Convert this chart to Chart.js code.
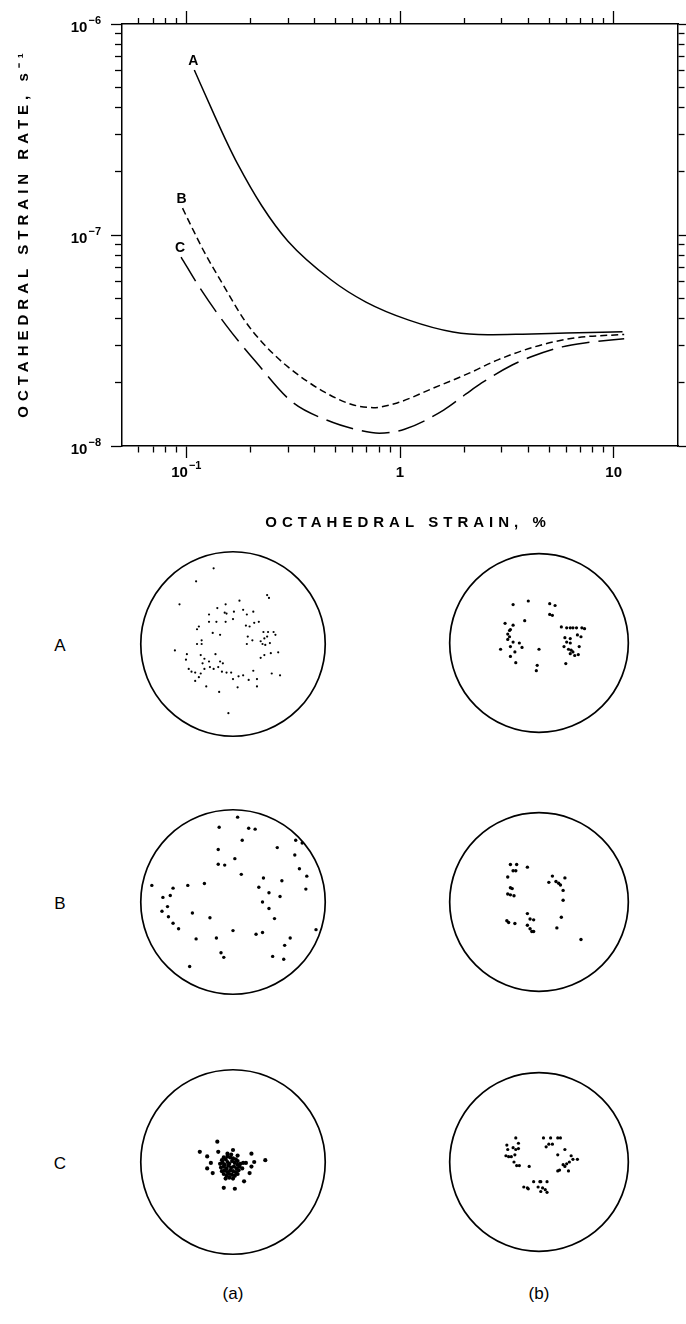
<!DOCTYPE html>
<html>
<head>
<meta charset="utf-8">
<script src="https://cdn.jsdelivr.net/npm/chart.js@4.4.1/dist/chart.umd.min.js"></script>
<style>
  body { margin: 0; background: #fff; }
  #page { position: relative; width: 686px; height: 1324px; overflow: hidden; font-family: "Liberation Sans", Arial, sans-serif; color: #000; }
  canvas { position: absolute; }
  .lbl { position: absolute; transform: translate(-50%, -50%); font-size: 17px; white-space: nowrap; }
</style>
</head>
<body>
<div id="page">
  <canvas id="curves" width="686" height="545" style="left:0;top:0"></canvas>
  <canvas id="net-A-a" width="198" height="198" style="left:134px;top:545px"></canvas>
  <canvas id="net-A-b" width="192" height="192" style="left:443px;top:547px"></canvas>
  <canvas id="net-B-a" width="198" height="198" style="left:134px;top:803px"></canvas>
  <canvas id="net-B-b" width="192" height="192" style="left:443px;top:806px"></canvas>
  <canvas id="net-C-a" width="198" height="198" style="left:134px;top:1063px"></canvas>
  <canvas id="net-C-b" width="192" height="192" style="left:443px;top:1066px"></canvas>
  <div class="lbl" style="left:60px;top:646px">A</div>
  <div class="lbl" style="left:60px;top:904px">B</div>
  <div class="lbl" style="left:60px;top:1164px">C</div>
  <div class="lbl" style="left:233px;top:1294px">(a)</div>
  <div class="lbl" style="left:539px;top:1294px">(b)</div>
</div>
<script>
// strain-rate curves (octahedral strain %, strain rate 1/s)
const curveLabels = ['A', 'B', 'C'];
const strainA = [0.109, 0.134, 0.155, 0.173, 0.225, 0.299, 0.477, 0.693, 1.10, 1.77, 2.57, 3.75, 6.0, 11.0];
const rateA = [6.05e-7, 3.78e-7, 2.74e-7, 2.19e-7, 1.38e-7, 9.35e-8, 6.12e-8, 4.81e-8, 3.95e-8, 3.47e-8, 3.37e-8, 3.39e-8, 3.43e-8, 3.48e-8];
const strainB = [0.096, 0.106, 0.122, 0.147, 0.187, 0.225, 0.299, 0.444, 0.60, 0.75, 0.97, 1.43, 2.12, 2.87, 4.26, 6.53, 11.2];
const rateB = [1.34e-7, 1.09e-7, 8.22e-8, 5.92e-8, 3.95e-8, 3.12e-8, 2.37e-8, 1.80e-8, 1.57e-8, 1.52e-8, 1.60e-8, 1.88e-8, 2.22e-8, 2.56e-8, 2.95e-8, 3.25e-8, 3.38e-8];
const strainC = [0.0945, 0.115, 0.153, 0.212, 0.312, 0.46, 0.62, 0.8, 1.05, 1.6, 2.03, 2.41, 3.35, 4.08, 5.74, 7.31, 11.2];
const rateC = [7.86e-8, 5.67e-8, 3.75e-8, 2.50e-8, 1.62e-8, 1.32e-8, 1.20e-8, 1.15e-8, 1.20e-8, 1.48e-8, 1.76e-8, 1.99e-8, 2.42e-8, 2.64e-8, 2.95e-8, 3.08e-8, 3.22e-8];

const xTickValues = [0.06, 0.07, 0.08, 0.09, 0.1, 0.2, 0.3, 0.4, 0.5, 0.6, 0.7, 0.8, 0.9, 1, 2, 3, 4, 5, 6, 7, 8, 9, 10];
const xMajor = [0.1, 1, 10];
const xLabelBase = ['10', '1', '10'];
const xLabelExp = ['−1', '', ''];
const yTickValues = [1e-8, 2e-8, 3e-8, 4e-8, 5e-8, 6e-8, 7e-8, 8e-8, 9e-8, 1e-7, 2e-7, 3e-7, 4e-7, 5e-7, 6e-7, 7e-7, 8e-7, 9e-7, 1e-6];
const yMajor = [1e-8, 1e-7, 1e-6];
const yLabelBase = ['10', '10', '10'];
const yLabelExp = ['−8', '−7', '−6'];
const xTitle = 'OCTAHEDRAL STRAIN, %';
const yTitle = 'OCTAHEDRAL STRAIN RATE, s⁻¹';

// pole points on the nets, in units of the net radius (x right, y up)
const netAa = [[-0.21,0.82],[-0.40,0.68],[-0.58,0.43],[0.37,0.53],[0.39,0.50],[-0.08,0.43],[0.07,0.47],[-0.17,0.39],[-0.09,0.34],[-0.07,0.33],[0.01,0.35],[0.11,0.37],[0.22,0.35],[-0.26,0.32],[0.15,0.32],[-0.26,0.24],[-0.18,0.24],[-0.08,0.24],[0.00,0.27],[0.14,0.20],[0.18,0.19],[0.23,0.23],[0.28,0.24],[-0.37,0.19],[-0.39,0.16],[-0.22,0.12],[-0.14,0.10],[0.16,0.08],[0.33,0.13],[0.38,0.13],[0.44,0.13],[0.46,0.10],[-0.39,0.00],[-0.34,0.00],[-0.34,0.04],[0.15,0.00],[0.21,0.04],[0.30,0.03],[0.32,0.00],[0.35,-0.01],[0.40,0.01],[0.37,0.08],[0.34,0.06],[-0.63,-0.07],[-0.50,-0.11],[-0.51,-0.17],[-0.35,-0.12],[-0.19,-0.11],[-0.31,-0.16],[-0.26,-0.19],[-0.14,-0.19],[-0.11,-0.21],[-0.33,-0.21],[-0.25,-0.25],[-0.16,-0.25],[-0.31,-0.27],[-0.48,-0.27],[-0.45,-0.30],[-0.41,-0.31],[-0.35,-0.32],[-0.21,-0.27],[-0.12,-0.30],[-0.07,-0.31],[-0.02,-0.31],[0.06,-0.35],[0.11,-0.34],[0.17,-0.39],[0.22,-0.29],[0.26,-0.38],[0.42,-0.32],[0.51,-0.34],[0.49,-0.09],[0.41,-0.10],[0.34,-0.12],[0.30,-0.15],[-0.41,-0.40],[-0.37,-0.36],[-0.29,-0.46],[0.00,-0.38],[-0.05,-0.75],[0.05,-0.47],[-0.15,-0.52],[0.26,-0.46]];
const netAb = [[-0.29,0.43],[-0.12,0.47],[0.12,0.44],[0.18,0.42],[-0.16,0.25],[0.12,0.32],[0.15,0.31],[-0.38,0.22],[-0.29,0.20],[-0.33,0.14],[-0.35,0.10],[-0.32,0.15],[-0.33,0.07],[-0.35,0.04],[-0.29,0.01],[-0.22,0.00],[-0.43,-0.07],[-0.32,-0.04],[-0.27,-0.10],[-0.19,-0.05],[-0.32,-0.15],[-0.26,-0.22],[0.00,-0.07],[-0.02,-0.25],[-0.03,-0.31],[0.25,0.18],[0.31,0.17],[0.35,0.17],[0.38,0.17],[0.42,0.17],[0.48,0.17],[0.51,0.16],[0.43,0.09],[0.29,0.06],[0.35,0.05],[0.31,0.01],[0.35,0.00],[0.28,-0.04],[0.33,-0.07],[0.36,-0.08],[0.38,-0.10],[0.35,-0.12],[0.40,-0.14],[0.30,-0.23],[0.47,0.07],[0.45,-0.04],[0.44,-0.13]];
const netBa = [[0.05,0.92],[-0.15,0.81],[0.17,0.80],[0.24,0.79],[0.10,0.67],[0.68,0.67],[0.75,0.64],[-0.16,0.57],[0.48,0.59],[0.67,0.51],[0.02,0.47],[-0.16,0.41],[-0.09,0.40],[0.09,0.30],[0.72,0.36],[0.80,0.28],[-0.88,0.18],[-0.65,0.15],[-0.49,0.18],[-0.31,0.20],[0.33,0.26],[0.53,0.23],[0.28,0.16],[0.79,0.14],[0.39,0.10],[0.51,0.06],[-0.76,0.05],[-0.68,0.07],[-0.71,-0.05],[-0.77,-0.10],[-0.70,-0.16],[-0.65,-0.23],[-0.59,-0.29],[-0.44,-0.12],[-0.25,-0.17],[0.32,0.00],[0.39,-0.07],[0.45,-0.18],[0.90,-0.30],[0.00,-0.31],[-0.40,-0.40],[-0.18,-0.39],[0.25,-0.35],[0.32,-0.33],[0.62,-0.39],[0.56,-0.47],[-0.13,-0.55],[-0.10,-0.60],[0.43,-0.59],[0.55,-0.62],[-0.47,-0.70]];
const netBb = [[-0.32,0.42],[-0.25,0.42],[-0.29,0.35],[-0.26,0.35],[-0.13,0.39],[-0.35,0.28],[-0.32,0.16],[-0.30,0.15],[-0.35,0.09],[-0.32,0.08],[-0.28,0.07],[0.15,0.29],[0.11,0.22],[0.19,0.23],[0.22,0.21],[0.24,0.19],[0.29,0.27],[0.27,0.13],[0.27,0.02],[-0.13,-0.13],[-0.10,-0.19],[-0.06,-0.20],[-0.36,-0.21],[-0.34,-0.23],[-0.27,-0.24],[-0.13,-0.26],[-0.10,-0.30],[-0.08,-0.33],[-0.06,-0.33],[0.25,-0.17],[0.20,-0.29],[0.47,-0.42]];
const netCa = [[-0.12,0.02],[-0.10,0.05],[-0.08,0.03],[-0.06,0.06],[-0.03,0.05],[0.00,0.04],[0.03,0.03],[0.05,0.01],[-0.14,-0.02],[-0.11,-0.01],[-0.09,-0.03],[-0.06,0.00],[-0.04,-0.02],[-0.01,0.01],[0.02,-0.01],[0.05,-0.03],[0.08,-0.02],[-0.13,-0.06],[-0.10,-0.05],[-0.07,-0.07],[-0.05,-0.04],[-0.02,-0.06],[0.01,-0.05],[0.04,-0.07],[0.07,-0.05],[-0.12,-0.10],[-0.09,-0.09],[-0.06,-0.11],[-0.03,-0.09],[0.00,-0.10],[0.03,-0.11],[0.06,-0.09],[-0.10,-0.13],[-0.07,-0.15],[-0.04,-0.13],[-0.01,-0.14],[0.02,-0.15],[0.05,-0.13],[-0.08,-0.18],[-0.04,-0.17],[0.00,-0.18],[-0.06,0.09],[-0.02,0.08],[0.10,-0.07],[0.11,-0.01],[-0.17,0.22],[-0.36,0.11],[-0.28,0.06],[0.00,0.13],[0.20,0.09],[0.35,0.02],[-0.24,-0.01],[-0.28,-0.07],[-0.22,-0.12],[0.20,-0.05],[0.23,0.00],[0.14,-0.01],[0.18,-0.12],[0.12,-0.21],[-0.10,-0.28],[0.02,-0.29],[-0.16,0.11],[0.05,0.07]];
const netCb = [[-0.26,0.27],[-0.36,0.19],[-0.35,0.14],[-0.29,0.16],[-0.26,0.14],[-0.23,0.15],[-0.23,0.21],[-0.37,0.07],[-0.34,0.06],[-0.31,0.06],[-0.27,0.08],[-0.28,0.00],[-0.22,-0.04],[-0.25,-0.04],[-0.11,-0.05],[0.05,0.27],[0.13,0.27],[0.21,0.27],[0.24,0.27],[0.11,0.20],[0.15,0.20],[0.08,0.17],[0.29,0.14],[0.21,0.08],[0.36,0.07],[0.38,0.03],[0.43,0.03],[0.34,0.00],[0.31,-0.02],[0.27,-0.03],[0.29,-0.05],[0.33,-0.10],[0.21,-0.10],[0.23,-0.09],[-0.17,-0.28],[-0.13,-0.29],[-0.12,-0.30],[-0.06,-0.22],[0.01,-0.22],[0.02,-0.22],[0.09,-0.22],[-0.01,-0.28],[0.04,-0.29],[0.07,-0.31],[0.02,-0.33],[0.09,-0.34]];

const FONT = '"Liberation Sans", Arial, sans-serif';

// minor ticks are shortened with a dash; on the top/left sides the tick is drawn outer end first
function tickDash(majors, minorLen) {
  return ctx => majors.includes(ctx.tick && ctx.tick.value) ? [] : [minorLen, 100];
}
function tickOffset(majors, len, minorLen) {
  return ctx => majors.includes(ctx.tick && ctx.tick.value) ? 0 : 100 + 2 * minorLen - len;
}

function logAxis(position, values, majors, len, minorLen, size) {
  const horizontal = position === 'top' || position === 'bottom';
  const outerFirst = position === 'top' || position === 'left';
  return {
    type: 'logarithmic',
    position: position,
    min: horizontal ? 0.05 : 1e-8,
    max: horizontal ? 20 : 1e-6,
    afterBuildTicks: scale => { scale.ticks = values.map(v => ({ value: v })); },
    afterFit: scale => {
      if (horizontal) scale.height = size; else scale.width = size;
    },
    border: { display: true, color: '#000', width: 1.5 },
    grid: {
      drawOnChartArea: false,
      drawTicks: true,
      tickLength: len,
      tickColor: '#000',
      tickWidth: 1.3,
      tickBorderDash: tickDash(majors, minorLen),
      tickBorderDashOffset: outerFirst ? tickOffset(majors, len, minorLen) : 0
    },
    ticks: { display: false, autoSkip: false },
    title: { display: false }
  };
}

// powers of ten with a raised exponent, placed through the scales
function drawPower(ctx, base, exp, x, y, align) {
  ctx.font = 'bold 15px ' + FONT;
  const wb = ctx.measureText(base).width;
  ctx.font = 'bold 11px ' + FONT;
  const we = exp ? ctx.measureText(exp).width + 1 : 0;
  const left = align === 'right' ? x - wb - we : x - (wb + we) / 2;
  ctx.textAlign = 'left';
  ctx.textBaseline = 'alphabetic';
  ctx.font = 'bold 15px ' + FONT;
  ctx.fillText(base, left, y);
  if (exp) {
    ctx.font = 'bold 11px ' + FONT;
    ctx.fillText(exp, left + wb + 1, y - 8);
  }
}

const axisText = {
  id: 'axisText',
  afterDraw(chart) {
    const { ctx, chartArea, scales } = chart;
    ctx.save();
    ctx.fillStyle = '#000';
    xMajor.forEach((v, i) => {
      drawPower(ctx, xLabelBase[i], xLabelExp[i], scales.x.getPixelForValue(v), chartArea.bottom + 31, 'center');
    });
    yMajor.forEach((v, i) => {
      drawPower(ctx, yLabelBase[i], yLabelExp[i], chartArea.left - 21, scales.y.getPixelForValue(v) + 8, 'right');
    });
    ctx.font = 'bold 15px ' + FONT;
    ctx.letterSpacing = '5px';
    ctx.textAlign = 'center';
    ctx.textBaseline = 'middle';
    ctx.fillText(xTitle, (chartArea.left + chartArea.right) / 2 + 8, chartArea.bottom + 77);
    ctx.translate(scales.y.left + 24, (chartArea.top + chartArea.bottom) / 2);
    ctx.rotate(-Math.PI / 2);
    ctx.fillText(yTitle, 2, 0);
    ctx.restore();
  }
};

const curveTags = {
  id: 'curveTags',
  afterDatasetsDraw(chart) {
    const ctx = chart.ctx;
    ctx.save();
    ctx.font = 'bold 14px ' + FONT;
    ctx.fillStyle = '#000';
    ctx.textAlign = 'center';
    ctx.textBaseline = 'alphabetic';
    chart.data.datasets.forEach((ds, i) => {
      const p = chart.getDatasetMeta(i).data[0];
      ctx.fillText(ds.label, p.x - 1, p.y - 5);
    });
    ctx.restore();
  }
};

const curveStyles = [[], [7, 4], [28, 9]];
const strains = [strainA, strainB, strainC];
const rates = [rateA, rateB, rateC];

new Chart(document.getElementById('curves'), {
  type: 'line',
  data: {
    datasets: curveLabels.map((label, i) => ({
      label: label,
      data: strains[i].map((s, j) => ({ x: s, y: rates[i][j] })),
      borderColor: '#000',
      borderWidth: 1.5,
      borderDash: curveStyles[i],
      pointRadius: 0,
      fill: false,
      cubicInterpolationMode: 'monotone'
    }))
  },
  options: {
    responsive: false,
    animation: false,
    devicePixelRatio: 1,
    layout: { padding: 0 },
    plugins: { legend: { display: false }, tooltip: { enabled: false } },
    scales: {
      x: logAxis('bottom', xTickValues, xMajor, 12, 6, 99),
      x2: logAxis('top', xTickValues, xMajor, 13, 6, 24),
      y: logAxis('left', yTickValues, yMajor, 11, 7, 122),
      y2: logAxis('right', yTickValues, yMajor, 8, 6, 8)
    }
  },
  plugins: [axisText, curveTags]
});

const netCircle = {
  id: 'netCircle',
  afterDraw(chart) {
    const { ctx, scales } = chart;
    const cx = scales.x.getPixelForValue(0);
    const cy = scales.y.getPixelForValue(0);
    const r = scales.x.getPixelForValue(1) - cx;
    ctx.save();
    ctx.strokeStyle = '#000';
    ctx.lineWidth = 1.7;
    ctx.beginPath();
    ctx.arc(cx, cy, r, 0, Math.PI * 2);
    ctx.stroke();
    ctx.restore();
  }
};

function drawNet(id, points, dotSize) {
  new Chart(document.getElementById(id), {
    type: 'scatter',
    data: {
      datasets: [{
        data: points.map(p => ({ x: p[0], y: p[1] })),
        pointRadius: dotSize,
        pointBackgroundColor: '#000',
        pointBorderWidth: 0
      }]
    },
    options: {
      responsive: false,
      animation: false,
      devicePixelRatio: 1,
      layout: { padding: 0 },
      plugins: { legend: { display: false }, tooltip: { enabled: false } },
      scales: {
        x: { type: 'linear', min: -1.03, max: 1.03, display: false },
        y: { type: 'linear', min: -1.03, max: 1.03, display: false }
      }
    },
    plugins: [netCircle]
  });
}

drawNet('net-A-a', netAa, 1.1);
drawNet('net-A-b', netAb, 1.6);
drawNet('net-B-a', netBa, 1.7);
drawNet('net-B-b', netBb, 1.7);
drawNet('net-C-a', netCa, 2.1);
drawNet('net-C-b', netCb, 1.6);
</script>
</body>
</html>
